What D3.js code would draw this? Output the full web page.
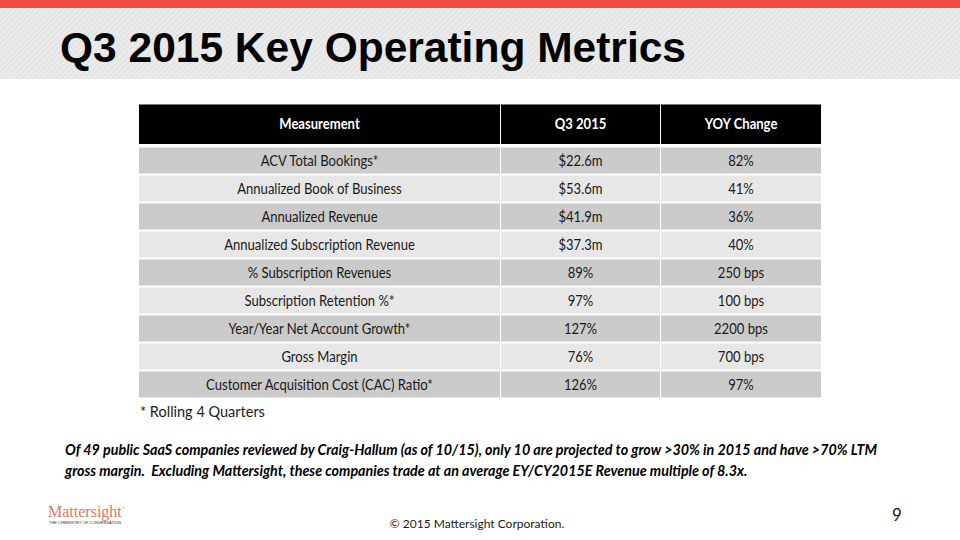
<!DOCTYPE html>
<html>
<head>
<meta charset="utf-8">
<script src="https://cdn.jsdelivr.net/npm/d3@7"></script>
<style>
  html, body { margin: 0; padding: 0; background: #fff; }
  svg { display: block; }
  text { white-space: pre; }
</style>
</head>
<body>
<script>
// ---- Data ----
const columns = ["Measurement", "Q3 2015", "YOY Change"];
const measurements = [
  "ACV Total Bookings*",
  "Annualized Book of Business",
  "Annualized Revenue",
  "Annualized Subscription Revenue",
  "% Subscription Revenues",
  "Subscription Retention %*",
  "Year/Year Net Account Growth*",
  "Gross Margin",
  "Customer Acquisition Cost (CAC) Ratio*"
];
const q3Values = ["$22.6m", "$53.6m", "$41.9m", "$37.3m", "89%", "97%", "127%", "76%", "126%"];
const yoyValues = ["82%", "41%", "36%", "40%", "250 bps", "100 bps", "2200 bps", "700 bps", "97%"];

const titleText = "Q3 2015 Key Operating Metrics";
const footnoteText = "* Rolling 4 Quarters";
const noteLines = [
  "Of 49 public SaaS companies reviewed by Craig-Hallum (as of 10/15), only 10 are projected to grow >30% in 2015 and have >70% LTM",
  "gross margin.  Excluding Mattersight, these companies trade at an average EY/CY2015E Revenue multiple of 8.3x."
];

// ---- Layout ----
const W = 960, H = 540;
const bodyFont = "Lato, 'Open Sans', sans-serif";
const svg = d3.select("body").append("svg").attr("width", W).attr("height", H);

// narrow a text (Calibri-like proportions) while keeping glyph height
function narrow(sel, k) {
  sel.each(function () {
    const len = this.getComputedTextLength();
    d3.select(this).attr("textLength", len * k).attr("lengthAdjust", "spacingAndGlyphs");
  });
}

// background stripes pattern
const defs = svg.append("defs");
const pat = defs.append("pattern").attr("id", "stripes")
  .attr("patternUnits", "userSpaceOnUse").attr("width", 4).attr("height", 4)
  .attr("patternTransform", "rotate(45)");
pat.append("rect").attr("width", 4).attr("height", 4).attr("fill", "#e4e4e4");
pat.append("rect").attr("width", 2).attr("height", 4).attr("fill", "#ececec");

svg.append("rect").attr("x", 0).attr("y", 8).attr("width", W).attr("height", 71).attr("fill", "url(#stripes)");
svg.append("rect").attr("x", 0).attr("y", 0).attr("width", W).attr("height", 8).attr("fill", "#ef4c3d");

svg.append("text").attr("x", 60).attr("y", 62)
  .attr("font-family", "'Liberation Sans', Arial, sans-serif")
  .attr("font-weight", "bold").attr("font-size", 42.5).attr("fill", "#000")
  .text(titleText);

// Table scales
const colX = d3.scaleOrdinal().domain(columns).range([139, 501, 661]);
const colW = d3.scaleOrdinal().domain(columns).range([361, 159, 160]);
const y = d3.scaleBand().domain(measurements).range([146.5, 398.5])
  .paddingInner(2 / 28).paddingOuter(1 / 28);

const table = svg.append("g");

// Header
const headerTop = 104.5, headerH = 39.5;
columns.forEach(c => {
  table.append("rect").attr("x", colX(c)).attr("y", headerTop)
    .attr("width", colW(c)).attr("height", headerH).attr("fill", "#000");
  table.append("text").attr("x", colX(c) + colW(c) / 2).attr("y", headerTop + headerH / 2)
    .attr("dy", "0.35em").attr("text-anchor", "middle")
    .attr("font-family", bodyFont).attr("font-weight", "bold").attr("font-size", 14.5)
    .attr("fill", "#fff").text(c).call(narrow, 0.9);
});

// Body rows
const rows = measurements.map((m, i) => ({ cells: [m, q3Values[i], yoyValues[i]], key: m, i }));
rows.forEach(r => {
  columns.forEach((c, j) => {
    table.append("rect").attr("x", colX(c)).attr("y", y(r.key))
      .attr("width", colW(c)).attr("height", y.bandwidth())
      .attr("fill", r.i % 2 === 0 ? "#cbcbcb" : "#e7e7e7");
    table.append("text").attr("x", colX(c) + colW(c) / 2).attr("y", y(r.key) + y.bandwidth() / 2)
      .attr("dy", "0.35em").attr("text-anchor", "middle")
      .attr("font-family", bodyFont).attr("font-size", 14.5)
      .attr("fill", "#1a1a1a").text(r.cells[j]).call(narrow, 0.9);
  });
});

// Footnote
svg.append("text").attr("x", 140).attr("y", 417)
  .attr("font-family", bodyFont).attr("font-size", 14.5).attr("fill", "#1a1a1a")
  .text(footnoteText);

// Note paragraph
noteLines.forEach((l, i) => {
  svg.append("text").attr("x", 65).attr("y", 455 + i * 21)
    .attr("font-family", bodyFont).attr("font-size", 14.3)
    .attr("font-weight", "bold").attr("font-style", "italic").attr("fill", "#000")
    .text(l);
});

// Logo
const logo = svg.append("text").attr("x", 48).attr("y", 517)
  .attr("font-family", "'Liberation Serif', 'DejaVu Serif', serif").attr("font-size", 16)
  .attr("fill", "#e2765f");
logo.append("tspan").text("Mattersight");
logo.append("tspan").attr("font-size", 4).attr("dy", -8).text("®");
svg.append("text").attr("x", 49).attr("y", 524)
  .attr("font-family", "'Liberation Sans', sans-serif").attr("font-size", 4.2)
  .attr("textLength", 72).attr("lengthAdjust", "spacingAndGlyphs")
  .attr("fill", "#333").text("THE CHEMISTRY OF CONVERSATION");

// Footer
svg.append("text").attr("x", 477).attr("y", 528).attr("text-anchor", "middle")
  .attr("font-family", bodyFont).attr("font-size", 12).attr("fill", "#1a1a1a")
  .text("© 2015 Mattersight Corporation.");
svg.append("text").attr("x", 897).attr("y", 521).attr("text-anchor", "middle")
  .attr("font-family", bodyFont).attr("font-size", 17).attr("fill", "#1a1a1a")
  .text("9");
</script>
</body>
</html>
